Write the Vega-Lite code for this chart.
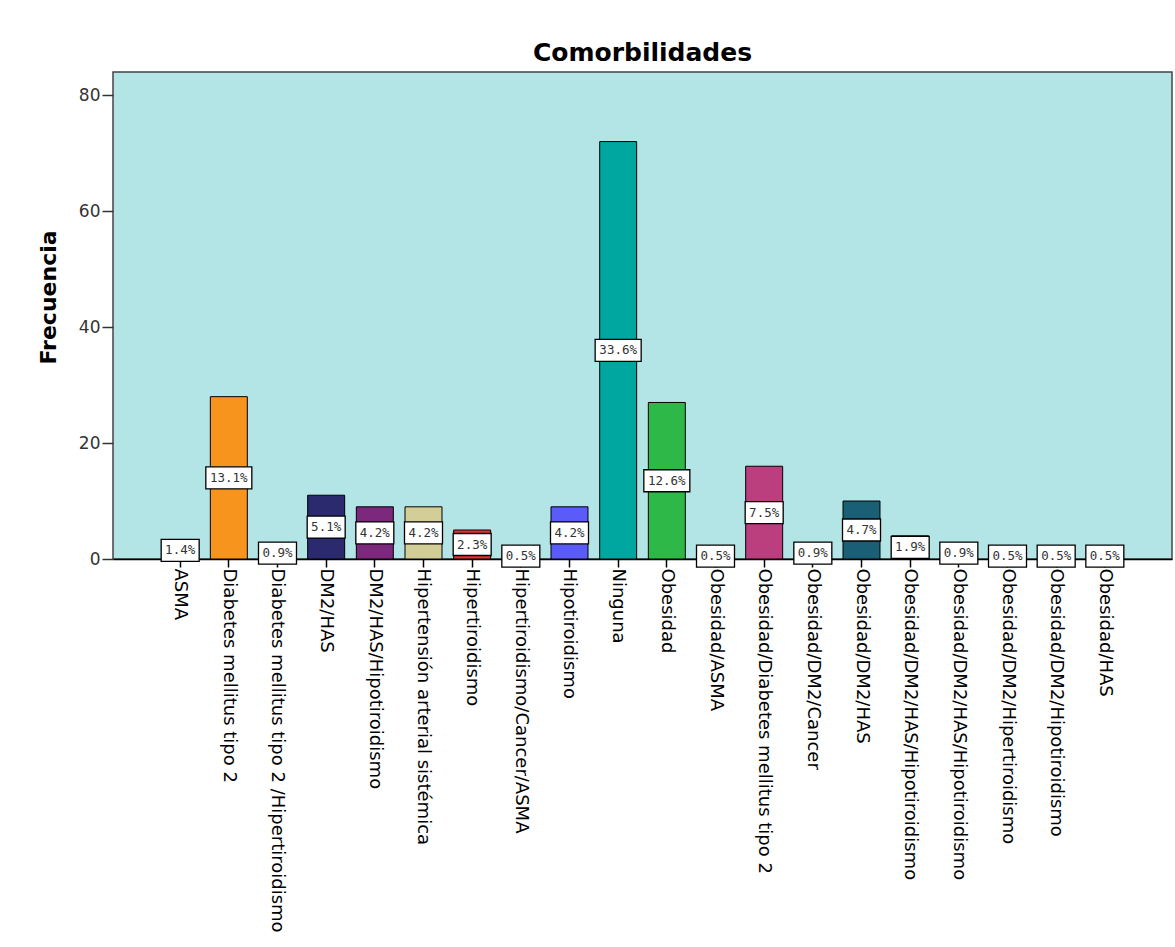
{
  "$schema": "https://vega.github.io/schema/vega-lite/v6.json",
  "autosize": {"type": "none"},
  "width": 1059,
  "height": 487,
  "padding": {"left": 113, "top": 72, "right": 3, "bottom": 388},
  "background": "white",
  "title": {"text": "Comorbilidades", "fontSize": 25, "font": "DejaVu Sans", "fontWeight": "bold", "color": "black", "anchor": "middle", "offset": 6},
  "config": {
    "view": {"fill": "#B4E5E6", "stroke": "#444444", "strokeWidth": 1.5},
    "axis": {"labelFont": "DejaVu Sans", "titleFont": "DejaVu Sans", "grid": false}
  },
  "data": {"values": [
    {"cat": "ASMA", "n": 3, "pct": "1.4%"},
    {"cat": "Diabetes mellitus tipo 2", "n": 28, "pct": "13.1%"},
    {"cat": "Diabetes mellitus tipo 2 /Hipertiroidismo", "n": 2, "pct": "0.9%"},
    {"cat": "DM2/HAS", "n": 11, "pct": "5.1%"},
    {"cat": "DM2/HAS/Hipotiroidismo", "n": 9, "pct": "4.2%"},
    {"cat": "Hipertensión arterial sistémica", "n": 9, "pct": "4.2%"},
    {"cat": "Hipertiroidismo", "n": 5, "pct": "2.3%"},
    {"cat": "Hipertiroidismo/Cancer/ASMA", "n": 1, "pct": "0.5%"},
    {"cat": "Hipotiroidismo", "n": 9, "pct": "4.2%"},
    {"cat": "Ninguna", "n": 72, "pct": "33.6%"},
    {"cat": "Obesidad", "n": 27, "pct": "12.6%"},
    {"cat": "Obesidad/ASMA", "n": 1, "pct": "0.5%"},
    {"cat": "Obesidad/Diabetes mellitus tipo 2", "n": 16, "pct": "7.5%"},
    {"cat": "Obesidad/DM2/Cancer", "n": 2, "pct": "0.9%"},
    {"cat": "Obesidad/DM2/HAS", "n": 10, "pct": "4.7%"},
    {"cat": "Obesidad/DM2/HAS/Hipotiroidismo", "n": 4, "pct": "1.9%"},
    {"cat": "Obesidad/DM2/HAS/Hipotiroidismo ", "n": 2, "pct": "0.9%"},
    {"cat": "Obesidad/DM2/Hipertiroidismo", "n": 1, "pct": "0.5%"},
    {"cat": "Obesidad/DM2/Hipotiroidismo", "n": 1, "pct": "0.5%"},
    {"cat": "Obesidad/HAS", "n": 1, "pct": "0.5%"}
  ]},
  "encoding": {
    "x": {
      "field": "cat", "type": "nominal", "sort": null,
      "scale": {"paddingInner": 0.24, "paddingOuter": 1.237},
      "axis": {"title": null, "labelAngle": 90, "labelAlign": "left", "labelBaseline": "middle", "labelFontSize": 18, "labelColor": "black", "labelLimit": 500, "labelPadding": 1, "tickSize": 8, "tickColor": "black", "tickWidth": 1.5, "domainColor": "black", "domainWidth": 1.5}
    }
  },
  "layer": [
    {
      "mark": {"type": "bar", "stroke": "black", "strokeWidth": 1, "opacity": 1},
      "encoding": {
        "y": {
          "field": "n", "type": "quantitative",
          "scale": {"domain": [0, 84], "nice": false},
          "axis": {"title": "Frecuencia", "titleFontSize": 22, "titleFontWeight": "bold", "titleColor": "black", "titlePadding": 18, "titleY": 225, "values": [0, 20, 40, 60, 80], "labelFontSize": 17, "labelColor": "#333333", "tickSize": 11, "tickColor": "#333333", "tickWidth": 1.5, "domain": false, "labelPadding": 2}
        },
        "color": {
          "field": "cat", "type": "nominal", "legend": null,
          "scale": {
            "domain": ["ASMA", "Diabetes mellitus tipo 2", "Diabetes mellitus tipo 2 /Hipertiroidismo", "DM2/HAS", "DM2/HAS/Hipotiroidismo", "Hipertensión arterial sistémica", "Hipertiroidismo", "Hipertiroidismo/Cancer/ASMA", "Hipotiroidismo", "Ninguna", "Obesidad", "Obesidad/ASMA", "Obesidad/Diabetes mellitus tipo 2", "Obesidad/DM2/Cancer", "Obesidad/DM2/HAS", "Obesidad/DM2/HAS/Hipotiroidismo", "Obesidad/DM2/HAS/Hipotiroidismo ", "Obesidad/DM2/Hipertiroidismo", "Obesidad/DM2/Hipotiroidismo", "Obesidad/HAS"],
            "range": ["#3E58AC", "#F7941D", "#7AAAD5", "#2B2A6E", "#7C287D", "#D3CE97", "#E8302F", "#CCCCCC", "#5B5BFA", "#00A6A0", "#2EB848", "#FBF873", "#BB3F7F", "#999999", "#1A5F76", "#70DCA1", "#DDBAF1", "#797AA7", "#0A562C", "#CCFFCC"]
          }
        }
      }
    },
    {
      "encoding": {
        "y": {"field": "n", "type": "quantitative", "scale": {"domain": [0, 168], "nice": false}, "axis": null}
      },
      "layer": [
        {
          "mark": {"type": "point", "filled": true, "fill": "white", "stroke": "black", "strokeWidth": 1.3, "opacity": 1, "size": 2116},
          "encoding": {
            "shape": {
              "condition": {"test": "length(datum.pct) > 4", "value": "M-1,-0.478H1V0.478H-1Z"},
              "value": "M-0.826,-0.478H0.826V0.478H-0.826Z"
            }
          }
        },
        {
          "mark": {"type": "text", "font": "DejaVu Sans Mono", "fontSize": 12.5, "color": "#333333", "align": "center", "baseline": "middle"},
          "encoding": {"text": {"field": "pct", "type": "nominal"}}
        }
      ]
    }
  ],
  "resolve": {"scale": {"y": "independent"}}
}
